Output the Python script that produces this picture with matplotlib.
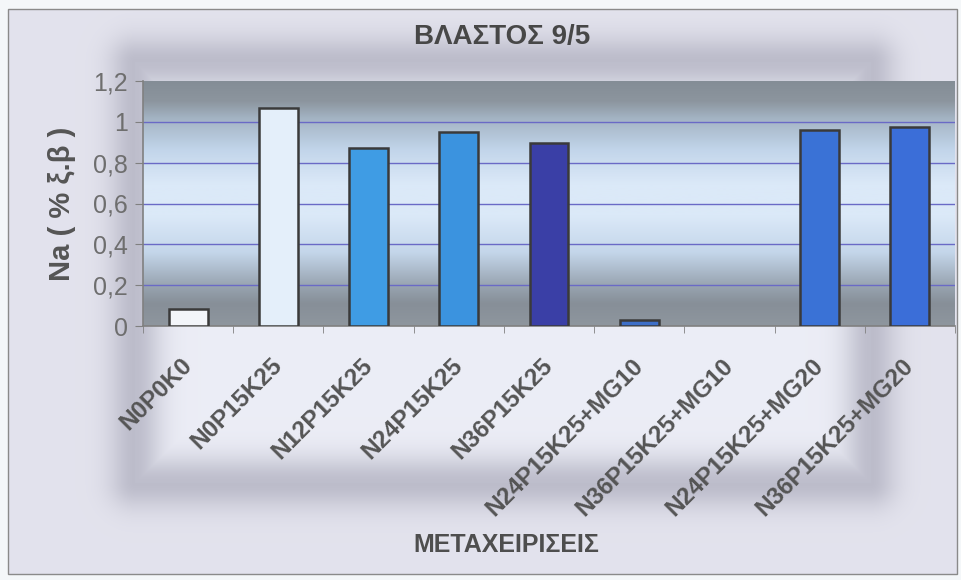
import numpy as np
import matplotlib
matplotlib.use("Agg")
import matplotlib.pyplot as plt
import matplotlib.transforms as mtransforms
from matplotlib.colors import LinearSegmentedColormap

# data
treatments = ['N0P0K0', 'N0P15K25', 'N12P15K25', 'N24P15K25', 'N36P15K25',
              'N24P15K25+MG10', 'N36P15K25+MG10', 'N24P15K25+MG20', 'N36P15K25+MG20']
na_values = [0.085, 1.07, 0.87, 0.95, 0.895, 0.03, 0.0, 0.96, 0.975]
bar_colors = ['#f3f5f9', '#e4effa', '#3f9ce4', '#3b93df', '#3a3fa6',
              '#3d6fc8', '#3d6fc8', '#3a72d6', '#3b6ed8']
yticks = [0, 0.2, 0.4, 0.6, 0.8, 1.0, 1.2]
ytick_labels = ['0', '0,2', '0,4', '0,6', '0,8', '1', '1,2']


def main():
    plt.rcParams['font.family'] = ['Liberation Sans', 'DejaVu Sans']
    W, H = 961, 580
    fig = plt.figure(figsize=(W / 100, H / 100), dpi=100)

    # chart background with soft blurred frame
    bg = fig.add_axes([0, 0, 1, 1])
    yy, xx = np.mgrid[0:H, 0:W]
    l, r, t, b = 135, 870, 62, 482
    dx = np.maximum(np.maximum(l - xx, xx - r), 0)
    dy = np.maximum(np.maximum(t - yy, yy - b), 0)
    outside = np.hypot(dx, dy)
    inside = np.minimum(np.minimum(xx - l, r - xx), np.minimum(yy - t, b - yy))
    is_out = (dx > 0) | (dy > 0)
    dist = np.where(is_out, outside, np.abs(inside))
    shade = np.exp(-(dist / 26.0) ** 2)
    base_in = np.array([0.925, 0.93, 0.965])
    base_out = np.array([0.89, 0.89, 0.93])
    base = np.where(is_out[..., None], base_out, base_in)
    dark = np.array([0.70, 0.70, 0.76])
    img = base * (1 - 0.8 * shade[..., None]) + dark * 0.8 * shade[..., None]
    border = (xx < 8) | (xx > 957) | (yy < 9) | (yy > 574)
    img[border] = [0.96, 0.97, 0.98]
    bg.imshow(img, extent=[0, W, H, 0], aspect='auto', interpolation='bilinear')
    bg.add_patch(plt.Rectangle((8, 9), 949, 565, fill=False, ec='#8a8a8a', lw=1))
    bg.set_xlim(0, W)
    bg.set_ylim(H, 0)
    bg.axis('off')

    ax = fig.add_axes([143 / W, 1 - 326 / H, 812 / W, 245 / H])
    x = np.arange(len(treatments))

    # plot area gradient (bottom -> top)
    grad = LinearSegmentedColormap.from_list('pa', [
        (0.0, '#8e969e'), (0.09, '#878f98'), (0.17, '#9aa6b3'),
        (0.30, '#c4d6ea'), (0.45, '#dbe9f8'), (0.58, '#dbe9f8'),
        (0.72, '#c2d5ea'), (0.85, '#a3b3c3'), (0.92, '#8c959e'), (1.0, '#848d96')])
    g = np.linspace(0, 1, 256).reshape(-1, 1)
    ax.imshow(g, cmap=grad, origin='lower', aspect='auto',
              extent=[-0.5, len(treatments) - 0.5, 0, 1.2], zorder=0)

    for yv in yticks[1:-1]:
        ax.axhline(yv, color='#6a6ac6', lw=1, zorder=1)

    widths = [1.8 if v > 0 else 0 for v in na_values]
    ax.bar(x, na_values, width=0.43, color=bar_colors, edgecolor='#3a3a3a',
           linewidth=widths, zorder=3)

    ax.set_xlim(-0.5, len(treatments) - 0.5)
    ax.set_ylim(0, 1.2)
    ax.set_yticks(yticks)
    ax.set_yticklabels(ytick_labels, fontsize=18, color='#6e6e6e')
    ax.set_xticks(np.arange(len(treatments) + 1) - 0.5, minor=True)
    ax.set_xticks(x)
    ax.set_xticklabels(treatments, rotation=45, ha='right', va='center',
                       rotation_mode='anchor', fontsize=17.5, fontweight='bold',
                       color='#555555')
    shift = mtransforms.ScaledTranslation(-10 / 100, 0, fig.dpi_scale_trans)
    for lab in ax.get_xticklabels():
        lab.set_transform(lab.get_transform() + shift)
    ax.tick_params(axis='x', which='major', length=0, pad=26)
    ax.tick_params(axis='x', which='minor', length=5, color='#808080')
    ax.tick_params(axis='y', length=6, color='#808080', pad=5)

    for side in ['top', 'right']:
        ax.spines[side].set_visible(False)
    for side in ['left', 'bottom']:
        ax.spines[side].set_color('#808080')
        ax.spines[side].set_linewidth(1.2)

    ax.set_ylabel('Na ( % ξ.β )', fontsize=21, fontweight='bold', color='#555555',
                  labelpad=12)

    fig.text(502 / W, 1 - 37 / H, 'ΒΛΑΣΤΟΣ 9/5', ha='center', va='center',
             fontsize=20, fontweight='bold', color='#474747')
    fig.text(506 / W, 1 - 545 / H, 'ΜΕΤΑΧΕΙΡΙΣΕΙΣ', ha='center', va='center',
             fontsize=18, fontweight='bold', color='#4e4e4e')

    fig.savefig('out.png', dpi=100)


if __name__ == "__main__":
    main()
